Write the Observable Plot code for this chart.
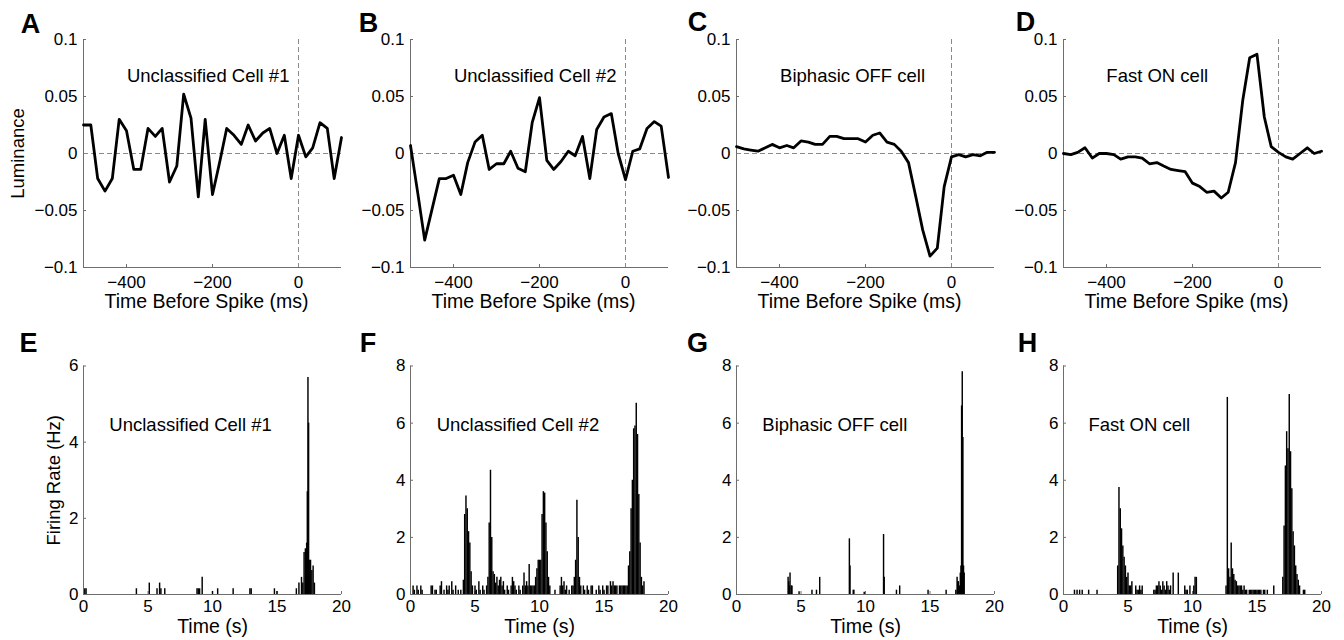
<!DOCTYPE html>
<html><head><meta charset="utf-8">
<script src="https://cdn.jsdelivr.net/npm/d3@7"></script>
<script src="https://cdn.jsdelivr.net/npm/@observablehq/plot@0.6"></script>
<style>
body{margin:0;background:#fff;}
#fig{position:relative;width:1344px;height:640px;overflow:hidden;background:#fff;}
#fig svg{position:absolute;font-family:"Liberation Sans", Arial, Helvetica, sans-serif !important;}
#fig svg g[aria-label$="tick label"]{font-size:17px !important;fill:#000;}
#fig svg g[aria-label$="axis tick"]{stroke:#6e6e6e;}
</style></head><body><div id="fig"></div>
<script>
// ---------- DATA ----------
const staTimes = [-500,-483,-467,-450,-433,-417,-400,-383,-367,-350,-333,-317,-300,-283,-267,-250,-233,-217,-200,-183,-167,-150,-133,-117,-100,-83,-67,-50,-33,-17,0,17,33,50,67,83,100];
const staA = [0.025,0.025,-0.022,-0.033,-0.022,0.030,0.020,-0.014,-0.014,0.022,0.015,0.022,-0.025,-0.011,0.052,0.031,-0.038,0.030,-0.036,-0.007,0.022,0.016,0.008,0.025,0.011,0.018,0.022,0.000,0.016,-0.022,0.016,-0.003,0.005,0.027,0.022,-0.022,0.014];
const staB = [0.007,-0.035,-0.076,-0.049,-0.022,-0.022,-0.019,-0.036,-0.008,0.010,0.016,-0.014,-0.009,-0.009,0.002,-0.013,-0.016,0.027,0.049,-0.006,-0.014,-0.007,0.002,-0.002,0.015,-0.022,0.021,0.032,0.035,0.000,-0.023,0.002,0.004,0.022,0.028,0.024,-0.021];
const staC = [0.006,0.004,0.003,0.002,0.005,0.008,0.005,0.007,0.005,0.011,0.010,0.008,0.008,0.015,0.015,0.013,0.013,0.013,0.010,0.016,0.018,0.010,0.008,0.002,-0.008,-0.038,-0.067,-0.090,-0.083,-0.029,-0.003,-0.001,-0.003,-0.001,-0.002,0.001,0.001];
const staD = [0.000,-0.001,0.001,0.005,-0.004,0.000,0.000,-0.001,-0.005,-0.003,-0.003,-0.004,-0.009,-0.008,-0.011,-0.014,-0.015,-0.016,-0.026,-0.029,-0.034,-0.033,-0.039,-0.034,-0.008,0.047,0.084,0.087,0.032,0.006,0.001,-0.003,-0.005,0.000,0.005,0.000,0.002];

const staXTicks = [-400,-200,0];
const staYTicks = [-0.1,-0.05,0,0.05,0.1];
const psthXTicks = [0,5,10,15,20];
const psthYTicksE = [0,2,4,6];
const psthYTicks = [0,2,4,6,8];

const cellNames = ["Unclassified Cell #1","Unclassified Cell #2","Biphasic OFF cell","Fast ON cell"];
const topLetters = ["A","B","C","D"];
const bottomLetters = ["E","F","G","H"];

// PSTH bins (time s, rate Hz), nonzero bins only
const eT = [0.1,0.2,4.1,5.1,5.7,5.9,6.0,6.3,8.8,8.9,9.0,9.2,10.0,10.4,11.6,12.9,13.0,14.8,15.0,16.5,16.7,16.9,17.0,17.1,17.2,17.3,17.35,17.4,17.45,17.5,17.6,17.7,17.8,17.9];
const eR = [0.15,0.15,0.15,0.3,0.15,0.3,0.15,0.15,0.15,0.15,0.15,0.45,0.08,0.15,0.15,0.15,0.15,0.15,0.08,0.15,0.3,0.45,0.3,1.1,1.2,1.35,2.7,5.7,4.5,0.9,0.9,0.63,0.75,0.3];

const fT = [0.2,0.3,0.5,0.6,0.8,0.9,1.6,1.7,1.9,2.0,2.3,2.4,2.6,2.8,2.9,3.0,3.2,3.3,3.5,3.7,3.9,
  4.1,4.2,4.3,4.4,4.5,4.6,4.7,4.8,5.0,5.1,5.3,5.4,5.6,5.7,5.9,
  6.0,6.1,6.2,6.3,6.4,6.5,6.6,6.7,6.8,6.9,7.0,7.1,7.2,7.3,7.5,7.6,7.8,7.9,8.0,8.1,8.2,8.4,8.5,8.7,8.8,8.9,9.0,9.1,9.2,9.3,9.4,9.5,
  9.6,9.7,9.8,9.9,10.0,10.1,10.2,10.3,10.4,10.5,10.6,10.7,10.8,
  11.2,11.6,11.7,11.8,11.9,12.0,12.1,12.3,12.5,12.6,12.7,
  12.8,12.9,13.0,13.1,13.2,13.4,13.5,13.7,13.8,14.0,14.1,14.4,14.6,14.7,14.9,15.0,15.2,15.3,15.5,15.6,15.7,15.8,15.9,16.0,16.2,16.3,16.4,16.5,16.6,16.7,
  16.8,16.9,17.0,17.1,17.2,17.3,17.4,17.5,17.6,17.7,17.8,17.9,18.0,18.1];
const fR = [0.3,0.15,0.3,0.15,0.3,0.15,0.3,0.3,0.15,0.15,0.3,0.45,0.15,0.3,0.15,0.3,0.45,0.15,0.3,0.15,0.15,
  0.5,2.8,3.45,3.0,2.2,1.8,0.8,0.3,0.3,0.15,0.45,0.15,0.3,0.15,0.3,
  0.6,2.5,4.35,2.0,0.8,0.7,0.4,0.6,0.3,0.5,0.6,0.3,0.45,0.15,0.3,0.15,0.3,0.6,0.45,0.3,0.15,0.3,0.15,0.3,0.75,0.3,0.45,0.3,1.05,0.3,0.3,0.3,
  0.3,0.6,0.9,1.2,1.2,1.2,2.8,3.6,3.55,2.5,1.5,0.6,0.3,
  0.15,0.3,0.6,0.3,0.45,0.15,0.3,0.15,0.3,0.3,0.6,
  1.2,3.3,2.0,0.6,0.3,0.3,0.15,0.3,0.15,0.3,0.3,0.15,0.3,0.15,0.3,0.15,0.3,0.3,0.45,0.3,0.45,0.3,0.3,0.3,0.3,0.3,0.3,0.3,0.3,0.3,
  0.3,1.0,1.5,3.0,4.0,5.8,5.9,6.7,5.6,3.5,1.8,0.6,0.3,0.45];

const gT = [4.0,4.05,4.1,4.15,4.25,4.3,4.85,5.85,6.2,6.45,8.75,8.8,9.05,9.1,9.9,11.4,11.45,12.4,12.65,14.85,16.25,17.0,17.1,17.15,17.2,17.3,17.35,17.4,17.45,17.5,17.55,17.6,17.65];
const gR = [0.6,0.45,0.3,0.75,0.3,0.3,0.1,0.15,0.15,0.6,1.95,1.0,0.15,0.15,0.08,2.1,0.6,0.15,0.3,0.15,0.15,0.15,0.6,0.45,0.45,0.3,0.75,1.0,6.6,7.8,5.5,1.0,0.75];

const hT = [0.85,1.05,1.25,1.45,1.95,2.6,
  4.2,4.3,4.4,4.5,4.6,4.7,4.8,4.9,5.0,5.1,5.2,5.3,5.6,5.7,5.8,5.9,6.0,6.1,
  7.0,7.1,7.2,7.3,7.4,7.5,7.6,7.7,7.8,7.9,8.0,8.1,8.2,8.3,8.5,8.9,9.4,9.5,9.6,9.8,10.1,10.2,10.3,
  12.6,12.7,12.8,12.9,13.0,13.1,13.2,13.3,13.4,13.5,13.6,13.7,13.8,13.9,14.0,14.1,14.2,14.4,14.5,14.6,14.7,14.8,14.9,15.0,15.1,15.2,15.3,15.5,15.6,15.8,16.3,
  17.0,17.1,17.2,17.3,17.4,17.5,17.6,17.7,17.8,17.9,18.0,18.1,18.2,18.3,18.6,18.7];
const hR = [0.15,0.15,0.15,0.15,0.15,0.15,
  1.0,3.75,3.0,2.3,1.7,1.3,1.0,0.6,0.75,0.3,0.3,0.45,0.3,0.15,0.15,0.3,0.15,0.3,
  0.15,0.15,0.3,0.3,0.45,0.3,0.15,0.45,0.3,0.15,0.45,0.3,0.15,0.3,0.75,0.75,0.3,0.15,0.15,0.3,0.3,0.6,0.6,
  0.3,6.9,0.9,0.6,1.8,0.9,0.7,0.5,0.45,0.3,0.3,0.3,0.3,0.15,0.3,0.15,0.15,0.15,0.15,0.15,0.15,0.15,0.15,0.15,0.15,0.15,0.15,0.15,0.15,0.15,0.3,
  0.6,2.4,4.5,5.7,5.1,7.0,5.0,3.7,2.2,1.7,1.0,0.7,0.5,0.3,0.15,0.15];

// ---------- LAYOUT ----------
const FONT = "Liberation Sans, Arial, Helvetica, sans-serif";
const colLeft = [83, 409.5, 736.3, 1063];
const plotW = 258;
const ML = 80, MR = 14;
const fig = document.getElementById("fig");
const AXIS = "#6e6e6e", DASH = "#8a8a8a";
const fmt = d3.format("~g");
const TICK = -3; // inward ticks, MATLAB style

function baseStyle() {
  return {background: "transparent", overflow: "visible", fontFamily: FONT, fontSize: "17px", color: "#000", maxWidth: "none"};
}
function put(svg, left, top) {
  svg.style.left = left + "px";
  svg.style.top = top + "px";
  fig.append(svg);
}

const topCfg = [
  {vals: staA, tx: -210, lx: -53, ly: -15, ylabel: true},
  {vals: staB, tx: -210, lx: -42, ly: -16, ylabel: false},
  {vals: staC, tx: -230, lx: -39, ly: -17, ylabel: false},
  {vals: staD, tx: -282, lx: -38, ly: -17, ylabel: false}
];

topCfg.forEach((c, i) => {
  const data = staTimes.map((t, k) => ({t, v: c.vals[k]}));
  const marks = [
    Plot.axisX({ticks: staXTicks, tickSize: TICK, tickPadding: 8 - TICK, label: null, tickFormat: fmt, stroke: AXIS}),
    Plot.axisY({ticks: staYTicks, tickSize: TICK, tickPadding: 6 - TICK, label: null, tickFormat: fmt, stroke: AXIS}),
    Plot.ruleY([0], {stroke: DASH, strokeDasharray: "5,3", strokeWidth: 1}),
    Plot.ruleX([0], {stroke: DASH, strokeDasharray: "5,3", strokeWidth: 1}),
    Plot.ruleX([-500], {stroke: AXIS, strokeWidth: 1}),
    Plot.ruleY([-0.1], {stroke: AXIS, strokeWidth: 1}),
    Plot.line(data, {x: "t", y: "v", stroke: "#000", strokeWidth: 2.8, strokeLinejoin: "round"}),
    Plot.text([cellNames[i]], {text: d => d, x: c.tx, y: 0.068, fontSize: 18.5, fill: "#000", textAnchor: "middle", lineAnchor: "middle"}),
    Plot.text(["Time Before Spike (ms)"], {text: d => d, frameAnchor: "bottom", dx: -6, dy: 34, fontSize: 19.5, fill: "#000", lineAnchor: "middle"}),
    Plot.text([topLetters[i]], {text: d => d, frameAnchor: "top-left", dx: c.lx, dy: c.ly, fontSize: 27, fontWeight: "bold", fill: "#000", textAnchor: "middle", lineAnchor: "middle"})
  ];
  if (c.ylabel) marks.push(Plot.text(["Luminance"], {text: d => d, frameAnchor: "left", dx: -65, rotate: -90, fontSize: 18.5, fill: "#000", textAnchor: "middle", lineAnchor: "middle"}));
  const svg = Plot.plot({
    width: ML + plotW + MR, height: 320,
    marginLeft: ML, marginRight: MR, marginTop: 39, marginBottom: 53,
    style: baseStyle(),
    x: {domain: [-500, 100]},
    y: {domain: [-0.1, 0.1]},
    marks
  });
  put(svg, colLeft[i] - ML, 0);
});

const botCfg = [
  {T: eT, R: eR, ymax: 6, yt: psthYTicksE, tx: 8.3, ty: 4.46, lx: -55, ylabel: true},
  {T: fT, R: fR, ymax: 8, yt: psthYTicks, tx: 8.33, ty: 5.92, lx: -42.5, ylabel: false},
  {T: gT, R: gR, ymax: 8, yt: psthYTicks, tx: 7.62, ty: 5.92, lx: -39, ylabel: false},
  {T: hT, R: hR, ymax: 8, yt: psthYTicks, tx: 5.88, ty: 5.92, lx: -36, ylabel: false}
];

botCfg.forEach((c, i) => {
  const data = c.T.map((t, k) => ({t, r: c.R[k]}));
  const marks = [
    Plot.axisX({ticks: psthXTicks, tickSize: TICK, tickPadding: 5 - TICK, label: null, tickFormat: fmt, stroke: AXIS}),
    Plot.axisY({ticks: c.yt, tickSize: TICK, tickPadding: 5 - TICK, label: null, tickFormat: fmt, stroke: AXIS}),
    Plot.ruleX(data, {x: "t", y: "r", stroke: "#000", strokeWidth: 1.45}),
    Plot.ruleX([0], {stroke: AXIS, strokeWidth: 1}),
    Plot.ruleY([0], {stroke: AXIS, strokeWidth: 1}),
    Plot.text([cellNames[i]], {text: d => d, x: c.tx, y: c.ty, fontSize: 18.5, fill: "#000", textAnchor: "middle", lineAnchor: "middle"}),
    Plot.text(["Time (s)"], {text: d => d, frameAnchor: "bottom", dy: 32, fontSize: 19.5, fill: "#000", lineAnchor: "middle"}),
    Plot.text([bottomLetters[i]], {text: d => d, frameAnchor: "top-left", dx: c.lx, dy: -23, fontSize: 27, fontWeight: "bold", fill: "#000", textAnchor: "middle", lineAnchor: "middle"})
  ];
  if (c.ylabel) marks.push(Plot.text(["Firing Rate (Hz)"], {text: d => d, frameAnchor: "left", dx: -29, rotate: -90, fontSize: 18.5, fill: "#000", textAnchor: "middle", lineAnchor: "middle"}));
  const svg = Plot.plot({
    width: ML + plotW + MR, height: 320,
    marginLeft: ML, marginRight: MR, marginTop: 45.5, marginBottom: 46,
    style: baseStyle(),
    x: {domain: [0, 20]},
    y: {domain: [0, c.ymax]},
    marks
  });
  put(svg, colLeft[i] - ML, 320);
});
</script></body></html>
